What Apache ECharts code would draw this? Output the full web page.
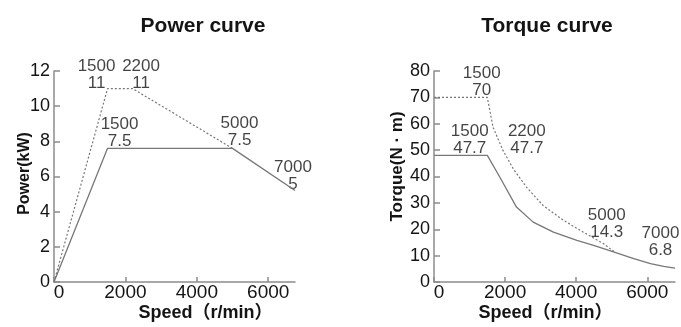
<!DOCTYPE html>
<html>
<head>
<meta charset="utf-8">
<script src="https://cdn.jsdelivr.net/npm/echarts@6/dist/echarts.min.js"></script>
<style>
html,body{margin:0;padding:0;background:#fff;}
#c{width:681px;height:327px;}
</style>
</head>
<body>
<div id="c"></div>
<script>
// ---- data ----
const xTicks = [0, 2000, 4000, 6000];
const powerTicks = [0, 2, 4, 6, 8, 10, 12];
const torqueTicks = [0, 10, 20, 30, 40, 50, 60, 70, 80];

const powerRatedSpeed = [0, 1500, 5000, 6750];
const powerRated = [0, 7.6, 7.6, 5.2];
const powerPeakSpeed = [0, 1500, 2200, 5000];
const powerPeak = [0, 11, 11, 7.6];

const torqueRatedSpeed = [0, 1500, 1850, 2320, 2790, 3360, 4020, 4490, 5050, 5620, 6090, 6460, 6780];
const torqueRated = [48, 48, 39.8, 28.4, 22.7, 18.9, 15.8, 13.9, 11.4, 8.9, 7.0, 5.9, 5.3];
const torquePeakSpeed = [0, 1500, 1660, 1940, 2230, 2600, 3070, 3640, 4200, 4770, 5100];
const torquePeak = [70, 70, 58.7, 49.9, 42.9, 36.0, 29.0, 23.4, 18.9, 14.5, 11.2];

const powerNoteX = [1500, 2200, 1500, 5000, 6750];
const powerNoteY = [11, 11, 7.6, 7.6, 5.2];
const powerNoteText = ['1500\n11', '2200\n11', '1500\n7.5', '5000\n7.5', '7000\n5'];

const torqueNoteX = [1500, 1500, 2200, 5000, 6780];
const torqueNoteY = [70, 48, 48, 14.3, 6.8];
const torqueNoteText = ['1500\n70', '1500\n47.7', '2200\n47.7', '5000\n14.3', '7000\n6.8'];

// ---- layout / style (not data) ----
const powerNoteOffset = [[-11, 5], [8.5, 5], [12, 3], [7, 2], [-2, 4]];
const torqueNoteOffset = [[-5.6, 3.5], [-17.6, 3], [14.6, 3], [-5, -1.5], [-14.5, -3]];

const zip = (xs, ys) => xs.map((x, i) => [x, ys[i]]);
const TXT = '#141414';
const AX = '#8c8c8c';
const LINE = '#777777';
const baseFont = '"Liberation Sans", Arial, "Noto Sans CJK SC", sans-serif';

function notes(xs, ys, texts, offsets, xi) {
  return {
    type: 'scatter', xAxisIndex: xi, yAxisIndex: xi,
    symbolSize: 0, silent: true, clip: false,
    data: xs.map((x, i) => ({
      value: [x, ys[i]],
      label: {
        show: true, position: 'top', distance: 2,
        formatter: texts[i], offset: offsets[i], align: 'center',
        fontFamily: baseFont, fontSize: 17, lineHeight: 17, color: TXT
      }
    }))
  };
}

function xAxis(gi, max, pad) {
  return {
    type: 'value', gridIndex: gi, min: 0, max: max,
    name: 'Speed（r/min）', nameLocation: 'middle', nameGap: 22, nameMoveOverlap: false,
    nameTextStyle: {fontFamily: baseFont, fontWeight: 'bold', fontSize: 18, color: TXT, padding: pad},
    splitLine: {show: false},
    axisLine: {lineStyle: {color: AX, width: 1.5}},
    axisTick: {inside: true, length: 5, lineStyle: {color: AX, width: 1.5}, customValues: xTicks},
    axisLabel: {customValues: xTicks, margin: 1,
      formatter: v => v === 0 ? '{z|0}' : String(v),
      rich: {z: {fontFamily: baseFont, fontSize: 19, color: TXT, padding: [0, 0, 0, 10]}},
      fontFamily: baseFont, fontSize: 19, color: TXT}
  };
}
function yAxis(gi, max, interval, ticks, name, gap, pad, fs) {
  return {
    type: 'value', gridIndex: gi, min: 0, max: max, interval: interval,
    name: name, nameLocation: 'middle', nameGap: gap, nameRotate: 90, nameMoveOverlap: false,
    nameTextStyle: {fontFamily: baseFont, fontWeight: 'bold', fontSize: fs, color: TXT, padding: pad},
    splitLine: {show: false},
    axisLine: {show: true, lineStyle: {color: AX, width: 1.5}},
    axisTick: {show: true, inside: true, length: 6, lineStyle: {color: AX, width: 1.5}, customValues: ticks},
    axisLabel: {customValues: ticks, formatter: v => String(v), margin: 4,
      fontFamily: baseFont, fontSize: 18, color: TXT}
  };
}

const chart = echarts.init(document.getElementById('c'), null, {renderer: 'canvas'});
chart.setOption({
  animation: false,
  backgroundColor: '#ffffff',
  title: [
    {text: 'Power curve', left: 198, top: 11, textAlign: 'center',
      textStyle: {fontFamily: baseFont, fontWeight: 'bold', fontSize: 21, color: TXT}},
    {text: 'Torque curve', left: 542, top: 11, textAlign: 'center',
      textStyle: {fontFamily: baseFont, fontWeight: 'bold', fontSize: 21, color: TXT}}
  ],
  grid: [
    {left: 54, right: 386, top: 71, bottom: 45},
    {left: 434, right: 6, top: 71, bottom: 45}
  ],
  xAxis: [xAxis(0, 6750, [0, 0, 0, 62]), xAxis(1, 6780, [0, 18, 0, 0])],
  yAxis: [
    yAxis(0, 12, 2, powerTicks, 'Power(kW)', 21, [0, 0, 0, 6], 16),
    yAxis(1, 80, 10, torqueTicks, 'Torque(N · m)', 28, [0, 0, 0, 20], 17)
  ],
  series: [
    {type: 'line', xAxisIndex: 0, yAxisIndex: 0, data: zip(powerPeakSpeed, powerPeak),
      showSymbol: false, lineStyle: {color: LINE, width: 1.2, type: [2, 2]}},
    {type: 'line', xAxisIndex: 0, yAxisIndex: 0, data: zip(powerRatedSpeed, powerRated),
      showSymbol: false, lineStyle: {color: LINE, width: 1.3}},
    {type: 'line', xAxisIndex: 1, yAxisIndex: 1, data: zip(torquePeakSpeed, torquePeak),
      showSymbol: false, lineStyle: {color: LINE, width: 1.2, type: [2, 2]}},
    {type: 'line', xAxisIndex: 1, yAxisIndex: 1, data: zip(torqueRatedSpeed, torqueRated),
      showSymbol: false, lineStyle: {color: LINE, width: 1.3}},
    notes(powerNoteX, powerNoteY, powerNoteText, powerNoteOffset, 0),
    notes(torqueNoteX, torqueNoteY, torqueNoteText, torqueNoteOffset, 1)
  ]
});
</script>
</body>
</html>
